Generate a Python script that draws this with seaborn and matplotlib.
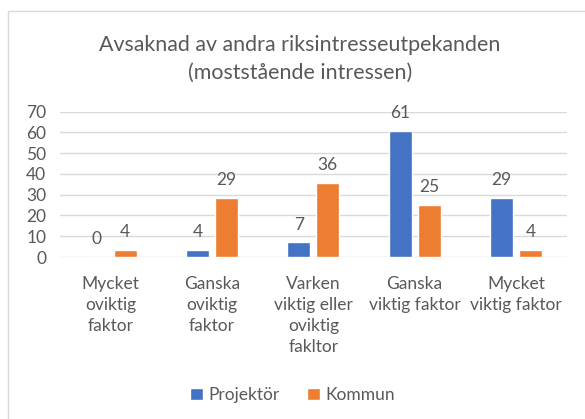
import matplotlib
matplotlib.use('Agg')
import matplotlib.pyplot as plt
from matplotlib.patches import Rectangle
import seaborn as sns
import pandas as pd

# ─── Data ───────────────────────────────────────────────────────────────────
categories = [
    'Mycket\noviktig\nfaktor',
    'Ganska\noviktig\nfaktor',
    'Varken\nviktig eller\noviktig\nfakltor',
    'Ganska\nviktig faktor',
    'Mycket\nviktig faktor',
]
series_names = ['Projektör', 'Kommun']
projektor = [0.0, 3.6, 7.1, 60.7, 28.6]
kommun = [3.6, 28.6, 35.7, 25.0, 3.6]
y_ticks = [0, 10, 20, 30, 40, 50, 60, 70]
title = 'Avsaknad av andra riksintresseutpekanden\n(moststående intressen)'
# ────────────────────────────────────────────────────────────────────────────

BLUE = '#4472C4'
ORANGE = '#ED7D31'
GRAY = '#595959'
FS = 12.5

df = pd.DataFrame({
    'kategori': categories * 2,
    'serie': [series_names[0]] * len(categories) + [series_names[1]] * len(categories),
    'varde': projektor + kommun,
})

sns.set_theme(style='white')
plt.rcParams['font.family'] = ['Lato', 'DejaVu Sans']

fig = plt.figure(figsize=(5.85, 4.19), dpi=100)
ax = fig.add_axes([0.1026, 0.3866, 0.866, 0.3468])

sns.barplot(data=df, x='kategori', y='varde', hue='serie',
            palette=[BLUE, ORANGE], saturation=1, width=0.57, gap=0.2,
            errorbar=None, ax=ax, legend=True)

for cont in ax.containers:
    ax.bar_label(cont, fmt='%.0f', padding=7, fontsize=FS, color=GRAY)

ax.set_ylim(0, 70)
ax.set_yticks(y_ticks)
ax.set_xlim(-0.5, len(categories) - 0.5)
ax.yaxis.grid(True, color='#D9D9D9', linewidth=1)
ax.set_axisbelow(True)
for s in ax.spines.values():
    s.set_visible(False)
ax.set_xlabel('')
ax.set_ylabel('')
ax.tick_params(axis='y', labelsize=FS, labelcolor=GRAY, length=0, pad=10)
ax.tick_params(axis='x', labelsize=FS, labelcolor=GRAY, length=0, pad=14)
for lbl in ax.get_xticklabels():
    lbl.set_linespacing(1.38)

leg = ax.legend(loc='center', bbox_to_anchor=(0.5, 1 - 395 / 419), bbox_transform=fig.transFigure,
                ncol=2, frameon=False, fontsize=FS, handlelength=0.75, handleheight=0.75,
                handletextpad=0.3, columnspacing=1.6)
for t in leg.get_texts():
    t.set_color(GRAY)

fig.text(300 / 585, 1 - 59 / 419, title, ha='center', va='center',
         fontsize=15.4, color=GRAY, linespacing=1.5)

# ram runt diagramytan (Excel-stil)
fig.patches.append(Rectangle((8 / 585, -0.1), 1.2, 1 - 11 / 419 + 0.1,
                             transform=fig.transFigure, fill=False,
                             edgecolor='#D9D9D9', linewidth=1))

fig.savefig('out.png', dpi=100)
